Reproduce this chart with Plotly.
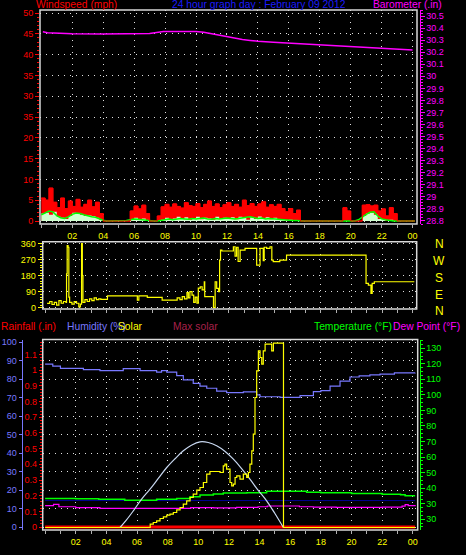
import plotly.graph_objects as go

FIG_W, FIG_H = 466, 555

# ---------------- data ----------------
x_tick_hours = [2, 4, 6, 8, 10, 12, 14, 16, 18, 20, 22, 24]
x_tick_text = ["02", "04", "06", "08", "10", "12", "14", "16", "18", "20", "22", "00"]

# wind, 15-minute slots (mph)
wind_hours = [q / 4 for q in range(96)] + [24.15]
wind_gust = [5.5, 5.0, 7.9, 4.5, 3.2, 5.5, 3.0, 4.8, 3.5, 5.2, 3.3, 4.0,
             5.0, 3.4, 4.5, 1.8, 0, 0, 0, 0, 0, 0, 0, 2.4,
             3.6, 2.9, 3.8, 1.8, 0, 0, 1.2, 3.4, 4.0, 3.3, 4.1, 3.5,
             3.1, 4.4, 3.7, 3.5, 4.2, 3.2, 4.0, 4.8, 3.5, 4.1, 3.2, 3.9,
             4.4, 3.5, 4.0, 3.3, 5.0, 3.7, 4.2, 3.5, 4.1, 4.6, 3.3, 3.9,
             3.5, 4.0, 3.0, 2.2, 3.0, 1.8, 2.6, 0, 0, 0, 0, 0,
             0, 0, 0, 0, 0, 0, 3.2, 2.4, 0, 0, 0, 3.8,
             3.9, 3.6, 3.8, 2.4, 2.9, 1.2, 3.2, 1.8, 0, 0, 0, 0, 0]
wind_speed = [1.8, 2.0, 1.5, 2.2, 1.0, 0.8, 0.5, 1.2, 2.0, 1.8, 1.5, 1.2,
              1.3, 1.2, 0.8, 0.3, 0, 0, 0, 0, 0, 0, 0, 0.3,
              0.8, 0.5, 0.6, 0, 0, 0, 0, 0.3, 0.8, 0.3, 0.6, 1.0,
              0.5, 0.9, 0.3, 0.7, 1.0, 0.4, 0.8, 0.6, 0.3, 1.0, 0.5, 0.8,
              0.6, 0.9, 0.4, 1.0, 0.7, 0.3, 0.9, 0.5, 1.1, 0.6, 0.9, 0.4,
              0.8, 0.5, 0.3, 0.2, 0.3, 0, 0.2, 0, 0, 0, 0, 0,
              0, 0, 0, 0, 0, 0, 0, 0, 0, 0, 0, 1.2,
              1.8, 2.0, 1.5, 0.5, 0.5, 0, 0.3, 0, 0, 0, 0, 0, 0]
wind_avg = [1.5, 2.0, 2.4, 2.2, 1.3, 0.8, 0.6, 1.0, 1.6, 1.9, 1.8, 1.5,
            1.2, 1.0, 0.9, 0.5, 0.2, 0, 0, 0, 0, 0, 0.1, 0.3,
            0.5, 0.4, 0.3, 0.1, 0, 0, 0, 0.2, 0.4, 0.5, 0.3, 0.5,
            0.6, 0.5, 0.4, 0.6, 0.5, 0.6, 0.7, 0.5, 0.4, 0.6, 0.5, 0.6,
            0.7, 0.6, 0.5, 0.6, 0.8, 0.9, 1.0, 0.8, 0.6, 0.7, 0.5, 0.6,
            0.5, 0.4, 0.3, 0.2, 0.2, 0.1, 0.1, 0, 0, 0, 0, 0,
            0, 0, 0, 0, 0, 0, 0, 0, 0, 0, 0.3, 1.0,
            1.6, 2.1, 2.2, 1.2, 0.5, 0.3, 0.1, 0, 0, 0, 0, 0, 0]

# barometer (inHg)
baro_hours = [0.1, 0.4, 1.6, 2.0, 4.0, 5.0, 6.0, 7.0, 7.9, 10.0, 10.5, 11.0, 11.5, 12.0,
              12.5, 13.0, 13.5, 14.0, 15.0, 16.0, 17.0, 18.0, 19.0, 20.0, 21.0, 22.0, 23.0, 24.0]
baro_vals = [30.37, 30.362, 30.355, 30.352, 30.35, 30.352, 30.35, 30.355, 30.372, 30.372,
             30.365, 30.352, 30.34, 30.325, 30.315, 30.305, 30.298, 30.29, 30.282, 30.275,
             30.268, 30.262, 30.258, 30.25, 30.245, 30.238, 30.23, 30.218]
baro_ticks = [28.8, 28.9, 29.0, 29.1, 29.2, 29.3, 29.4, 29.5, 29.6, 29.7, 29.8, 29.9,
              30.0, 30.1, 30.2, 30.3, 30.4, 30.5]
baro_tick_text = ["28.8", "28.9", "29", "29.1", "29.2", "29.3", "29.4", "29.5", "29.6", "29.7",
                  "29.8", "29.9", "30", "30.1", "30.2", "30.3", "30.4", "30.5"]
wind_ticks = [0, 5, 10, 15, 20, 25, 30, 35, 40, 45, 50]
wind_tick_text = ["0", "5", "10", "15", "20", "35", "30", "35", "40", "45", "50"]

# wind direction (degrees)
dir_hours = [0.13, 0.3, 0.45, 0.6, 0.75, 0.9, 1.05, 1.2, 1.36, 1.4, 1.44, 1.5, 1.55, 1.6,
             1.75, 1.9, 2.05, 2.2, 2.3, 2.38, 2.43, 2.47, 2.6, 2.75, 2.9, 3.05, 3.2, 3.35,
             3.5, 3.64, 4.07, 5.9, 6.02, 6.12, 6.67, 7.64, 8.62, 8.8, 8.95, 9.1, 9.26,
             9.35, 9.45, 9.59, 9.7, 9.8, 9.91, 10.0, 10.13, 10.25, 10.39, 10.42, 10.99,
             11.1, 11.2, 11.32, 11.39, 11.45, 11.54, 12.29, 12.4, 12.5, 12.6, 12.73,
             13.05, 13.81, 14.03, 14.24, 14.3, 14.46, 14.68, 14.8, 14.89, 15.32, 15.76,
             20.95, 21.1, 21.27, 21.35, 21.49, 24.1]
dir_vals = [24, 35, 18, 30, 15, 40, 25, 35, 30, 190, 350, 340, 60, 30,
            20, 35, 25, 5, 20, 360, 180, 30, 45, 35, 50, 40, 55, 45,
            50, 47, 66, 66, 43, 66, 58, 43, 55, 45, 62, 50, 85,
            55, 90, 71, 30, 60, 25, 110, 118, 100, 146, 62, 0,
            146, 109, 90, 268, 324, 319, 343, 290, 340, 260, 324,
            334, 240, 334, 265, 340, 334, 343, 268, 259, 268, 296,
            137, 127, 81, 137, 146, 146]
dir_ticks = [0, 90, 180, 270, 360]
compass = ["N", "W", "S", "E", "N"]

# bottom panel
hum_hours = [0.0, 0.5, 1.0, 2.5, 3.58, 5.1, 6.2, 7.28, 7.6, 7.94, 8.59, 9.02, 9.67, 10.11,
             10.55, 11.2, 11.85, 12.94, 13.81, 14.03, 15.33, 16.64, 17.51, 18.0, 18.6,
             19.25, 19.9, 20.5, 21.2, 21.86, 22.8, 24.15]
hum_vals = [88.2, 87.1, 85.9, 85.2, 84.6, 85.7, 84.6, 83.8, 84.6, 83.8, 81.9, 79.6, 77.8, 76.3,
            75.1, 73.6, 72.7, 73.2, 71.5, 70.5, 70.2, 71.1, 73.3, 73.8, 76.3,
            79.0, 81.2, 81.8, 82.3, 82.8, 83.4, 83.5]
temp_hours = [0.0, 2.0, 3.5, 5.2, 7.28, 8.59, 9.46, 10.11, 10.98, 11.63, 13.16, 14.46, 17.07,
              18.0, 20.0, 22.0, 23.2, 23.5, 24.15]
temp_vals = [33.4, 33.2, 32.8, 32.2, 32.8, 33.4, 34.5, 35.6, 36.2, 36.9, 37.1, 38.0, 37.3,
             37.1, 36.6, 36.0, 35.8, 35.1, 35.1]
dew_hours = [0.0, 0.55, 0.9, 2.0, 3.58, 8.6, 9.5, 11.0, 12.5, 13.9, 14.5, 16.6, 17.5, 19.0,
             20.5, 22.0, 23.3, 23.5, 23.7, 24.15]
dew_vals = [28.7, 29.6, 28.0, 27.5, 27.0, 27.0, 27.4, 27.3, 27.6, 28.0, 28.5, 28.0, 27.8, 27.6,
            27.6, 27.8, 28.4, 29.4, 28.8, 29.1]
freeze_hours = [0.0, 24.15]
freeze_vals = [32, 32]
rain_hours = [0.0, 24.15]
rain_vals = [0.0, 0.0]
solar_hours = [0.0, 6.85, 6.86, 7.06, 7.28, 7.5, 7.72, 7.94, 8.15, 8.37, 8.59, 8.81, 9.02,
               9.24, 9.46, 9.67, 9.9, 10.11, 10.33, 10.55, 10.76, 11.2, 11.42, 11.63, 11.74,
               11.85, 12.07, 12.18, 12.29, 12.4, 12.51, 12.72, 12.94, 13.16, 13.27, 13.37,
               13.49, 13.59, 13.7, 13.81, 13.92, 14.03, 14.14, 14.24, 14.36, 14.68, 14.79,
               14.9, 15.55, 15.56, 24.15]
solar_vals = [0, 0, 10, 15, 20, 27, 32, 37, 40, 45, 53, 60, 70,
              80, 90, 100, 112, 120, 135, 160, 168, 168, 165, 185, 190,
              175, 135, 125, 130, 150, 155, 145, 160, 150, 165, 190,
              230, 280, 390, 470, 530, 510, 490, 530, 550, 550, 530,
              553, 553, 0, 0]
maxsol_hours = [4.89, 5.3, 5.76, 6.3, 6.85, 7.4, 7.94, 8.5, 9.02, 9.55, 10.11, 10.65, 11.2,
                11.75, 12.29, 12.8, 13.37, 13.9, 14.46, 15.0, 15.55]
maxsol_vals = [0, 22, 50, 85, 115, 148, 180, 207, 230, 247, 257, 255, 245,
               228, 205, 178, 145, 112, 80, 42, 0]
rain_ticks = [0, 0.1, 0.2, 0.3, 0.4, 0.5, 0.6, 0.7, 0.8, 0.9, 1.0, 1.1, 1.2]
rain_tick_text = ["0", "0.1", "0.2", "0.3", "0.4", "0.5", "0.6", "0.7", "0.8", "0.9", "1", "1.1", "1.2"]
hum_ticks = [0, 10, 20, 30, 40, 50, 60, 70, 80, 90, 100]
temp_ticks = [20, 30, 40, 50, 60, 70, 80, 90, 100, 110, 120, 130]
temp_tick_text = ["30", "30", "40", "50", "60", "70", "80", "90", "100", "110", "120", "130"]

assert len(wind_gust) == len(wind_hours) == len(wind_speed) == len(wind_avg)
assert len(dir_hours) == len(dir_vals)
assert len(solar_hours) == len(solar_vals)

# ---------------- styling ----------------
RED, MAG, GRN, YEL = "#ff0000", "#ff00ff", "#00ff00", "#ffff00"
HUM = "#7878ff"
FONT = "Liberation Sans"
TICKF = 9


def dxp(a, b):
    return [a / FIG_W, b / FIG_W]


def dyp(top, bottom):
    return [1 - bottom / FIG_H, 1 - top / FIG_H]


grid = dict(showgrid=True, gridcolor="#e0e0e0", gridwidth=1, griddash="1px,5px")


def xaxis(domain, rng, anchor, labels):
    return dict(domain=domain, range=rng, anchor=anchor, tickmode="array",
                tickvals=x_tick_hours, ticktext=x_tick_text, showticklabels=labels,
                ticks="outside", ticklen=3, tickwidth=1, tickcolor="#b0b0b0",
                tickfont=dict(color=YEL, size=TICKF, family=FONT),
                minor=dict(tickmode="linear", tick0=0, dtick=1, ticks="outside",
                           ticklen=3, tickcolor="#b0b0b0", showgrid=False),
                zeroline=False, showline=False, fixedrange=True, automargin=False, **grid)


P1 = dict(x=(40, 417), y=(10, 224))
P2 = dict(x=(42.7, 416.7), y=(241.7, 309))
P3 = dict(x=(42.7, 417.7), y=(339.5, 530))

fig = go.Figure()

# panel 1: wind + barometer
fig.add_trace(go.Scatter(x=wind_hours, y=wind_gust, xaxis="x", yaxis="y", mode="lines",
                         line=dict(color=RED, width=1, shape="hv"), fill="tozeroy",
                         fillcolor=RED))
fig.add_trace(go.Scatter(x=wind_hours, y=wind_speed, xaxis="x", yaxis="y", mode="lines",
                         line=dict(color="#d0ffd0", width=0, shape="hv"), fill="tozeroy",
                         fillcolor="#d0ffd0"))
fig.add_trace(go.Scatter(x=wind_hours, y=wind_avg, xaxis="x", yaxis="y", mode="lines",
                         line=dict(color=GRN, width=1.5)))
# gust outline again on top so the calm periods show the red baseline
fig.add_trace(go.Scatter(x=wind_hours, y=wind_gust, xaxis="x", yaxis="y", mode="lines",
                         line=dict(color=RED, width=1, shape="hv")))
fig.add_trace(go.Scatter(x=baro_hours, y=baro_vals, xaxis="x", yaxis="y2", mode="lines",
                         line=dict(color=MAG, width=1.5)))

# panel 2: direction
fig.add_trace(go.Scatter(x=dir_hours, y=dir_vals, xaxis="x2", yaxis="y3", mode="lines",
                         line=dict(color=YEL, width=1.2, shape="hv")))

# panel 3
fig.add_trace(go.Scatter(x=hum_hours, y=hum_vals, xaxis="x3", yaxis="y5", mode="lines",
                         line=dict(color=HUM, width=1.2, shape="hv")))
fig.add_trace(go.Scatter(x=maxsol_hours, y=maxsol_vals, xaxis="x3", yaxis="y7", mode="lines",
                         line=dict(color="#c8d8f0", width=1.2, shape="spline")))
fig.add_trace(go.Scatter(x=freeze_hours, y=freeze_vals, xaxis="x3", yaxis="y6", mode="lines",
                         line=dict(color="#000090", width=1)))
fig.add_trace(go.Scatter(x=temp_hours, y=temp_vals, xaxis="x3", yaxis="y6", mode="lines",
                         line=dict(color=GRN, width=1.5, shape="hv")))
fig.add_trace(go.Scatter(x=dew_hours, y=dew_vals, xaxis="x3", yaxis="y6", mode="lines",
                         line=dict(color=MAG, width=1.2, shape="hv")))
fig.add_trace(go.Scatter(x=rain_hours, y=rain_vals, xaxis="x3", yaxis="y4", mode="lines",
                         line=dict(color=RED, width=3)))
fig.add_trace(go.Scatter(x=solar_hours, y=solar_vals, xaxis="x3", yaxis="y7", mode="lines",
                         line=dict(color=YEL, width=1.2, shape="hv")))

layout = dict(
    template="none",
    width=FIG_W, height=FIG_H, margin=dict(l=0, r=0, t=0, b=0, pad=0, autoexpand=False),
    paper_bgcolor="#000000", plot_bgcolor="#000000", showlegend=False,
    font=dict(family=FONT, size=TICKF),
    xaxis=xaxis(dxp(*P1["x"]), [-0.084, 24.286], "y", True),
    xaxis2=xaxis(dxp(*P2["x"]), [-0.157, 24.256], "y3", False),
    xaxis3=xaxis(dxp(*P3["x"]), [-0.157, 24.32], "y4", True),
    yaxis=dict(domain=dyp(*P1["y"]), range=[-0.72, 50.72], anchor="x",
               tickmode="array", tickvals=wind_ticks, ticktext=wind_tick_text,
               tickfont=dict(color=RED, size=TICKF), ticks="outside", ticklen=4,
               tickcolor=RED, minor=dict(tickmode="linear", tick0=0, dtick=1, ticks="outside",
                                         ticklen=2, tickcolor=RED, showgrid=False),
               zeroline=False, showline=False, fixedrange=True, automargin=False, **grid),
    yaxis2=dict(overlaying="y", side="right", anchor="free", position=419.5 / FIG_W,
                range=[28.775, 30.55], tickmode="array", tickvals=baro_ticks,
                ticktext=baro_tick_text, tickfont=dict(color=MAG, size=TICKF),
                ticks="outside", ticklen=4, tickcolor=MAG, showline=True, linecolor=MAG,
                linewidth=1, minor=dict(tickmode="linear", tick0=28.8, dtick=0.025,
                                        ticks="outside", ticklen=2, tickcolor=MAG,
                                        showgrid=False),
                showgrid=False, zeroline=False, fixedrange=True, automargin=False),
    yaxis3=dict(domain=dyp(*P2["y"]), range=[-7.3, 371.3], anchor="x2", tickmode="array",
                tickvals=dir_ticks, tickfont=dict(color=YEL, size=TICKF), ticks="outside",
                ticklen=4, tickcolor=YEL,
                minor=dict(tickmode="linear", tick0=0, dtick=15, ticks="outside",
                           ticklen=2, tickcolor=YEL, showgrid=False),
                zeroline=False, showline=False, fixedrange=True, automargin=False, **grid),
    yaxis4=dict(domain=dyp(*P3["y"]), range=[-0.019, 1.1966], anchor="x3", tickmode="array",
                tickvals=rain_ticks, ticktext=rain_tick_text,
                tickfont=dict(color=RED, size=TICKF), ticks="outside", ticklen=3,
                tickcolor=RED, minor=dict(tickmode="linear", tick0=0, dtick=0.02,
                                          ticks="outside", ticklen=1.5, tickcolor=RED,
                                          showgrid=False),
                showgrid=False, zeroline=False, showline=False, fixedrange=True,
                automargin=False),
    yaxis5=dict(overlaying="y4", side="left", anchor="free", position=21.5 / FIG_W,
                range=[-1.62, 101.5], tickmode="array", tickvals=hum_ticks,
                tickfont=dict(color=HUM, size=TICKF), ticks="outside", ticklen=3,
                tickcolor=HUM, showline=True, linecolor=HUM, linewidth=1.5,
                zeroline=False, fixedrange=True, automargin=False, **grid),
    yaxis6=dict(overlaying="y4", side="right", anchor="free", position=419.5 / FIG_W,
                range=[13.05, 135.64], tickmode="array", tickvals=temp_ticks,
                ticktext=temp_tick_text, tickfont=dict(color=GRN, size=TICKF),
                ticks="outside", ticklen=4, tickcolor=GRN, showline=True, linecolor=GRN,
                linewidth=1, minor=dict(tickmode="linear", tick0=20, dtick=2.5,
                                        ticks="outside", ticklen=2, tickcolor=GRN,
                                        showgrid=False),
                showgrid=False, zeroline=False, fixedrange=True, automargin=False),
    yaxis7=dict(overlaying="y4", range=[-7.5, 564], visible=False, fixedrange=True,
                automargin=False),
)
fig.update_layout(**layout)

# panel borders
for P in (P1, P2, P3):
    fig.add_shape(type="rect", xref="paper", yref="paper",
                  x0=P["x"][0] / FIG_W, x1=P["x"][1] / FIG_W,
                  y0=1 - P["y"][1] / FIG_H, y1=1 - P["y"][0] / FIG_H,
                  line=dict(color="#d8d8d8", width=1.5), layer="above")


def note(text, xpx, ypx, color, size=10.3):
    fig.add_annotation(text=text, x=xpx / FIG_W, y=1 - ypx / FIG_H, xref="paper",
                       yref="paper", xanchor="left", yanchor="middle", showarrow=False,
                       borderpad=0, font=dict(color=color, size=size, family=FONT))


note("Windspeed (mph)", 35, 4.5, RED)
note("24 hour graph day : February 09 2012", 171, 4.5, "#1c1cff")
note("Barometer (.in)", 372, 4.5, MAG)
note("Rainfall (.in)", 0, 326.5, RED)
note("Humidity (%)", 66, 326.5, HUM)
note("Solar", 117, 326.5, YEL)
note("Max solar", 172, 326.5, "#a8204a")
note("Temperature (°F)", 312.5, 326.5, GRN)
note("Dew Point (°F)", 392, 326.5, MAG)

for label, ypx in zip(compass, [244, 261, 278, 295, 311]):
    fig.add_annotation(text=label, x=439 / FIG_W, y=1 - ypx / FIG_H, xref="paper",
                       yref="paper", xanchor="center", yanchor="middle", showarrow=False,
                       borderpad=0, font=dict(color=YEL, size=12, family=FONT))

fig.write_html("out.html", config={"displayModeBar": False, "staticPlot": True})

# remove the browser's default page margin so the figure sits at the window origin
with open("out.html", "r", encoding="utf-8") as fh:
    page = fh.read()
page = page.replace("<head>", "<head><style>html,body{margin:0;padding:0;background:#000;"
                              "overflow:hidden}</style>", 1)
with open("out.html", "w", encoding="utf-8") as fh:
    fh.write(page)
